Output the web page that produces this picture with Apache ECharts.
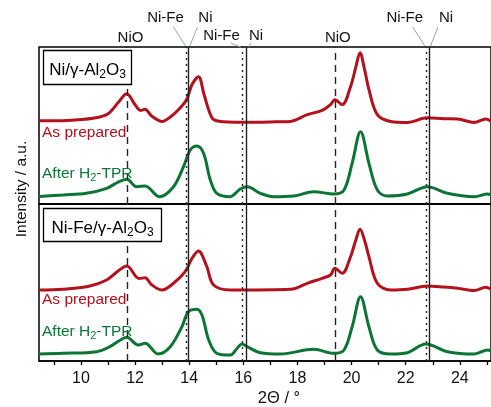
<!DOCTYPE html>
<html>
<head>
<meta charset="utf-8">
<script src="https://cdn.jsdelivr.net/npm/echarts@6/dist/echarts.min.js"></script>
<style>
  html, body { margin: 0; padding: 0; background: #fff; }
  #chart { width: 491px; height: 407px; }
</style>
</head>
<body>
<div id="chart"></div>
<script>
// 2theta ticks
var tickLabels = [10, 12, 14, 16, 18, 20, 22, 24];
var minorTicks = [9, 10, 11, 12, 13, 14, 15, 16, 17, 18, 19, 20, 21, 22, 23, 24, 25];

// reference reflections (2theta)
var nioLines = [11.72, 19.38];
var niFeLines = [13.9, 15.97, 22.74];
var niLines = [13.97, 16.1, 22.86];

// Ni/γ-Al2O3, as prepared
var niPrepared = [[8.45,2],[9.5,2.3],[10.5,4.7],[11.0,9],[11.4,21],[11.69,29],[12.0,18],[12.2,12.3],[12.37,13.5],[12.6,7],[13.0,1.3],[13.3,5.7],[13.6,13],[13.9,23],[14.1,38],[14.34,46],[14.55,28],[14.84,5],[15.1,1.5],[15.9,0.5],[17.0,0.8],[17.74,1.3],[18.36,8],[18.91,12.3],[19.22,18],[19.38,23],[19.65,18],[19.96,36],[20.15,55],[20.31,70],[20.48,53],[20.64,33],[20.95,8],[21.44,1.3],[22.06,0.3],[22.8,5],[23.4,4],[23.91,3.7],[24.53,0.3],[24.96,3.7],[25.15,1.3]];
// Ni/γ-Al2O3, after H2-TPR
var niReduced = [[8.45,1],[9.34,2.5],[10.2,4.2],[10.95,9.2],[11.35,15],[11.69,18.2],[12.06,10.8],[12.37,11.5],[12.9,0.8],[13.42,10.8],[13.79,30.8],[14.04,47.5],[14.28,51.5],[14.53,44.2],[14.78,17.5],[15.02,4.2],[15.52,0.8],[15.7,4],[15.89,8.5],[16.14,10.8],[16.63,4.2],[17.12,0.8],[17.86,1.5],[18.6,5.8],[19.35,3.5],[19.72,7.5],[20.02,34.2],[20.33,65.8],[20.64,34.2],[20.95,7.5],[21.32,1.5],[22.06,3.5],[22.8,10.8],[23.54,4.2],[24.53,0.8],[25.03,3.5],[25.15,2.5]];
// Ni-Fe/γ-Al2O3, as prepared
var niFePrepared = [[8.45,0.5],[9.34,1.2],[10.33,4.5],[10.95,10.5],[11.35,19],[11.69,24.5],[12.15,12],[12.37,12.8],[12.6,6],[12.99,0.5],[13.42,7.2],[13.85,18.8],[14.1,32],[14.34,39.5],[14.65,23.8],[14.9,5.5],[15.52,0.5],[15.89,0.5],[17.74,1.2],[18.36,7.2],[18.91,12.2],[19.22,15.5],[19.38,22.2],[19.65,17.2],[19.96,33.8],[20.15,50],[20.31,61.2],[20.48,50],[20.64,33.8],[20.95,7.2],[21.44,0.5],[22.06,1.2],[22.8,4.5],[23.4,3.5],[23.91,2.2],[24.53,0],[24.96,3.2],[25.15,1.2]];
// Ni-Fe/γ-Al2O3, after H2-TPR
var niFeReduced = [[8.45,1],[9.34,1.7],[10.58,3.3],[11.07,8.3],[11.4,14],[11.69,17.7],[12.12,10],[12.37,11.7],[12.85,1],[13.3,8.3],[13.73,28.3],[13.97,43.3],[14.28,45.7],[14.47,40],[14.72,15],[15.02,1.7],[15.52,0],[15.75,6],[15.95,11],[16.14,8.3],[16.63,2.3],[17.37,1],[18.6,5.7],[19.35,1.7],[19.72,5],[20.02,28.3],[20.33,58.3],[20.64,28.3],[20.95,5],[21.44,1],[22.06,2.3],[22.74,11],[23.54,3.3],[24.53,1],[25.03,5],[25.15,4]];

var RED = '#b3111c', GREEN = '#0c7536';
var FONT = 'Liberation Sans, Arial, sans-serif';
var XMIN = 8.45, XMAX = 25.15, PANEL_H = 157;

function shift(data, off) {
    return data.map(function (d) { return [d[0], d[1] + off]; });
}

function refLines(gridIdx) {
    var data = [];
    nioLines.forEach(function (x) { data.push({ xAxis: x, lineStyle: { type: [7, 5] } }); });
    niFeLines.forEach(function (x) { data.push({ xAxis: x, lineStyle: { type: [2, 4] } }); });
    niLines.forEach(function (x) { data.push({ xAxis: x, lineStyle: { type: 'solid' } }); });
    return {
        type: 'line', xAxisIndex: gridIdx, yAxisIndex: gridIdx, data: [], z: 1,
        markLine: {
            silent: true, symbol: 'none', animation: false,
            label: { show: false },
            lineStyle: { color: '#222', width: 1.4 },
            data: data
        }
    };
}

function curve(gridIdx, data, color) {
    return {
        type: 'line', xAxisIndex: gridIdx, yAxisIndex: gridIdx, data: data, z: 3,
        smooth: 0.35, showSymbol: false, symbol: 'none', animation: false,
        lineStyle: { color: color, width: 3 }
    };
}

function xAxis(gridIdx, showLabels) {
    return {
        type: 'value', gridIndex: gridIdx, min: XMIN, max: XMAX,
        axisLine: { show: true, lineStyle: { color: '#000', width: 1.5 } },
        axisTick: { show: showLabels, customValues: minorTicks, length: 4, lineStyle: { color: '#000', width: 1.3 } },
        axisLabel: { show: showLabels, customValues: tickLabels, margin: 10, fontSize: 16, color: '#111', fontFamily: FONT },
        splitLine: { show: false }
    };
}

function yAxis(gridIdx) {
    return {
        type: 'value', gridIndex: gridIdx, min: 0, max: PANEL_H,
        axisLine: { show: false }, axisTick: { show: false },
        axisLabel: { show: false }, splitLine: { show: false }
    };
}

var chart = echarts.init(document.getElementById('chart'));

function richFor(color, big, small) {
    return {
        m: { fontSize: big, fontFamily: FONT, fill: color, lineHeight: big + 5, verticalAlign: 'bottom' },
        s: { fontSize: small, fontFamily: FONT, fill: color, lineHeight: small + 2, verticalAlign: 'bottom', padding: [0, 0, -2, 0] }
    };
}

chart.setOption({
    animation: false,
    grid: [
        { left: 39, right: -3, top: 47, height: PANEL_H, show: true, borderColor: '#000', borderWidth: 1.5 },
        { left: 39, right: -3, top: 47 + PANEL_H, height: PANEL_H, show: true, borderColor: '#000', borderWidth: 1.5 }
    ],
    xAxis: [xAxis(0, false), xAxis(1, true)],
    yAxis: [yAxis(0), yAxis(1)],
    series: [
        refLines(0), refLines(1),
        curve(0, shift(niPrepared, 81.3), RED),
        curve(0, shift(niReduced, 6.5), GREEN),
        curve(1, shift(niFePrepared, 70.5), RED),
        curve(1, shift(niFeReduced, 6), GREEN)
    ]
});

// phase labels above the frame, placed from the axis scale
function px(x) { return chart.convertToPixel({ gridIndex: 0 }, [x, 0])[0]; }
var graphics = [];
function label(text, cx, cy) {
    graphics.push({ type: 'text', x: cx, y: cy, style: { text: text, fontSize: 15, fontFamily: FONT, fill: '#111', align: 'center', verticalAlign: 'middle' } });
}
function connector(x1, y1, x2, y2) {
    graphics.push({ type: 'line', shape: { x1: x1, y1: y1, x2: x2, y2: y2 }, style: { stroke: '#9aa5ad', lineWidth: 1 } });
}
nioLines.forEach(function (x) { label('NiO', px(x) + 3, 38); });
[0, 2].forEach(function (i) {
    var a = px(niFeLines[i]), b = px(niLines[i]);
    label('Ni-Fe', a - 21, 18); label('Ni', b + 17, 18);
    connector(a - 13, 27, a - 1, 46); connector(b + 9, 27, b + 1.5, 46);
});
(function () {
    var a = px(niFeLines[1]), b = px(niLines[1]);
    label('Ni-Fe', a - 21, 36); label('Ni', b + 10, 36);
    connector(a - 12, 43, a - 2, 47); connector(b + 5, 43, b + 2.5, 47);
})();

// sample boxes
graphics.push({ type: 'rect', shape: { x: 43.5, y: 50.5, width: 88, height: 34 }, style: { fill: '#fff', stroke: '#000', lineWidth: 1.3 }, z: 10 });
graphics.push({ type: 'text', x: 87.5, y: 68, z: 11, style: { text: '{m|Ni/γ-Al}{s|2}{m|O}{s|3}', rich: richFor('#000', 17, 12), align: 'center', verticalAlign: 'middle' } });
graphics.push({ type: 'rect', shape: { x: 43.5, y: 208.5, width: 118, height: 33 }, style: { fill: '#fff', stroke: '#000', lineWidth: 1.3 }, z: 10 });
graphics.push({ type: 'text', x: 102.5, y: 225.5, z: 11, style: { text: '{m|Ni-Fe/γ-Al}{s|2}{m|O}{s|3}', rich: richFor('#000', 17, 12), align: 'center', verticalAlign: 'middle' } });

// curve names
[133, 300].forEach(function (y) {
    graphics.push({ type: 'text', x: 42, y: y, z: 11, style: { text: 'As prepared', fontSize: 15.5, fontFamily: FONT, fill: RED, verticalAlign: 'middle' } });
});
[171, 329].forEach(function (y) {
    graphics.push({ type: 'text', x: 42, y: y, z: 11, style: { text: '{m|After H}{s|2}{m|-TPR}', rich: richFor(GREEN, 15.5, 11), verticalAlign: 'middle' } });
});

// axis names
graphics.push({ type: 'text', x: 22, y: 189, rotation: Math.PI / 2, style: { text: 'Intensity / a.u.', fontSize: 15.5, fontFamily: FONT, fill: '#111', align: 'center', verticalAlign: 'middle' } });
graphics.push({ type: 'text', x: 279, y: 398, style: { text: '2Θ / °', fontSize: 16.5, fontFamily: FONT, fill: '#111', align: 'center', verticalAlign: 'middle' } });

chart.setOption({ graphic: graphics });
</script>
</body>
</html>
